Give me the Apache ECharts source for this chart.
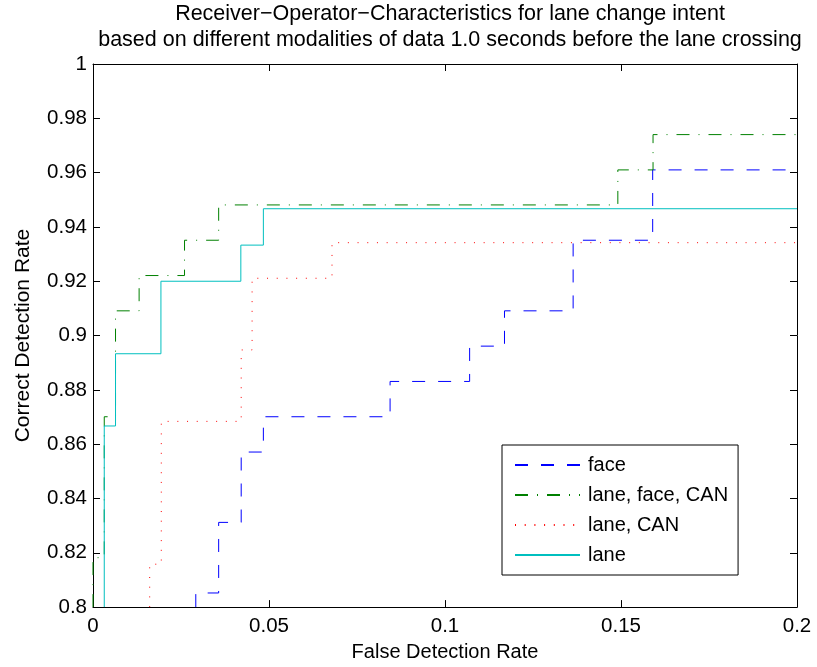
<!DOCTYPE html>
<html>
<head>
<meta charset="utf-8">
<script src="https://cdn.jsdelivr.net/npm/echarts@6/dist/echarts.min.js"></script>
<style>
  html, body { margin: 0; padding: 0; background: #fff; }
  #chart { width: 817px; height: 667px; }
</style>
</head>
<body>
<div id="chart"></div>
<script>
// ROC step curves: false detection rate (x) vs correct detection rate (y)
const faceFpr = [0.0292, 0.0292, 0.0357, 0.0421, 0.0484, 0.0844, 0.1070, 0.1169, 0.1364, 0.1590, 0.2];
const faceTpr = [0.8, 0.8052, 0.8312, 0.8571, 0.8701, 0.8831, 0.8961, 0.9091, 0.9351, 0.9610, 0.9610];

const laneFaceCanFpr = [0, 0, 0.0032, 0.0064, 0.0131, 0.0260, 0.0357, 0.1491, 0.1591, 0.2];
const laneFaceCanTpr = [0.8, 0.8182, 0.8701, 0.9091, 0.9221, 0.9351, 0.9481, 0.9610, 0.9740, 0.9740];

const laneCanFpr = [0.0161, 0.0161, 0.0194, 0.0421, 0.0452, 0.0679, 0.2];
const laneCanTpr = [0.8, 0.8158, 0.8684, 0.8947, 0.9211, 0.9342, 0.9342];

const laneFpr = [0.0032, 0.0032, 0.0064, 0.0193, 0.0420, 0.0484, 0.2];
const laneTpr = [0.8, 0.8667, 0.8933, 0.92, 0.9333, 0.9467, 0.9467];

const seriesNames = ['face', 'lane, face, CAN', 'lane, CAN', 'lane'];

const FONT = 'Liberation Sans, Arial, Helvetica, sans-serif';
const pairs = (xs, ys) => xs.map((x, i) => [x, ys[i]]);

function stepSeries(name, xs, ys, color, dash) {
  return {
    name: name,
    type: 'line',
    step: 'end',
    data: pairs(xs, ys),
    symbol: 'none',
    showSymbol: false,
    legendIcon: 'path://M0,0Z',
    clip: true,
    animation: false,
    lineStyle: { color: color, width: 1, type: dash, cap: 'butt' },
    itemStyle: { color: color }
  };
}

const axisCommon = {
  axisLine: { show: true, onZero: false, lineStyle: { color: '#000', width: 1 } },
  axisTick: { show: true, inside: true, length: 7, lineStyle: { color: '#000', width: 1 } },
  splitLine: { show: false }
};

const chart = echarts.init(document.getElementById('chart'), null, { renderer: 'canvas' });
chart.setOption({
  animation: false,
  backgroundColor: '#fff',
  textStyle: { fontFamily: FONT },
  title: {
    text: 'Receiver\u2212Operator\u2212Characteristics for lane change intent\nbased on different modalities of data 1.0 seconds before the lane crossing',
    left: 445,
    textAlign: 'center',
    top: 0,
    padding: [1, 5, 5, 5],
    textStyle: { fontFamily: FONT, fontSize: 21.5, fontWeight: 'normal', color: '#000', lineHeight: 26 }
  },
  grid: { left: 93, right: 20, top: 64, bottom: 58, containLabel: false },
  legend: {
    data: seriesNames,
    orient: 'vertical',
    left: 502,
    top: 445,
    itemWidth: 65,
    itemHeight: 14,
    itemGap: 10,
    padding: [10, 10, 10, 12],
    backgroundColor: '#fff',
    borderColor: '#000',
    borderWidth: 1,
    itemStyle: { opacity: 0 },
    textStyle: { fontFamily: FONT, fontSize: 20, color: '#000', padding: [0, 0, 0, 3] }
  },
  xAxis: [
    Object.assign({}, axisCommon, {
      type: 'value', min: 0, max: 0.2, interval: 0.05, position: 'bottom',
      name: 'False Detection Rate', nameLocation: 'middle', nameGap: 34,
      nameTextStyle: { fontFamily: FONT, fontSize: 20, color: '#000' },
      axisLabel: { fontFamily: FONT, fontSize: 20.5, color: '#000', margin: 9,
        formatter: v => String(+v.toFixed(2)) }
    }),
    Object.assign({}, axisCommon, {
      type: 'value', min: 0, max: 0.2, interval: 0.05, position: 'top',
      axisLabel: { show: false }
    })
  ],
  yAxis: [
    Object.assign({}, axisCommon, {
      type: 'value', min: 0.8, max: 1, interval: 0.02, position: 'left',
      name: 'Correct Detection Rate', nameLocation: 'middle', nameGap: 59,
      nameTextStyle: { fontFamily: FONT, fontSize: 21, color: '#000' },
      axisLabel: { fontFamily: FONT, fontSize: 20.5, color: '#000', margin: 6,
        formatter: v => String(+v.toFixed(2)) }
    }),
    Object.assign({}, axisCommon, {
      type: 'value', min: 0.8, max: 1, interval: 0.02, position: 'right',
      axisLabel: { show: false }
    })
  ],
  series: [
    stepSeries(seriesNames[0], faceFpr, faceTpr, '#0000ff', [13, 13]),
    stepSeries(seriesNames[1], laneFaceCanFpr, laneFaceCanTpr, '#008000', [13, 9, 1, 9]),
    stepSeries(seriesNames[2], laneCanFpr, laneCanTpr, '#ff0000', [1, 8.7]),
    stepSeries(seriesNames[3], laneFpr, laneTpr, '#00bfbf', 'solid')
  ]
});
</script>
</body>
</html>
